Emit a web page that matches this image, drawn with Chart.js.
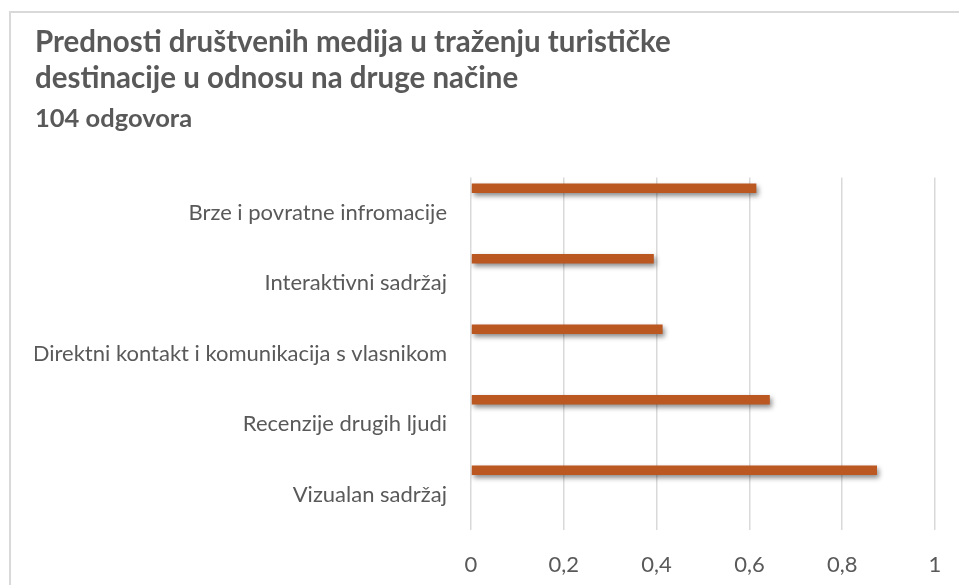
<!DOCTYPE html>
<html>
<head>
<meta charset="utf-8">
<script src="https://cdn.jsdelivr.net/npm/chart.js@4.4.0/dist/chart.umd.min.js"></script>
<style>
  html, body { margin: 0; padding: 0; background: #fff; overflow: hidden; }
  #frame { position: absolute; left: 9px; top: 11px; width: 2000px; height: 2000px; border: 2px solid #d9d9d9; }
  #wrap { position: absolute; left: 0; top: 0; width: 959px; height: 585px; }
</style>
</head>
<body>
<div id="frame"></div>
<div id="wrap"><canvas id="chart"></canvas></div>
<script>
// chart data
const titleLines = [
  'Prednosti društvenih medija u traženju turističke',
  'destinacije u odnosu na druge načine'
];
const subtitleText = '104 odgovora';
const categories = [
  'Brze i povratne infromacije',
  'Interaktivni sadržaj',
  'Direktni kontakt i komunikacija s vlasnikom',
  'Recenzije drugih ljudi',
  'Vizualan sadržaj'
];
const shares = [0.615, 0.394, 0.413, 0.644, 0.875];
const xTickLabels = ['0', '0,2', '0,4', '0,6', '0,8', '1'];

const textColor = '#595959';
const barColor = '#bb5720';

// soft drop shadow under the bars, like the Excel original
const barShadow = {
  id: 'barShadow',
  beforeDatasetDraw(chart, args) {
    if (args.index !== 0) return;
    const ctx = chart.ctx;
    ctx.save();
    ctx.shadowColor = 'rgba(0,0,0,0.45)';
    ctx.shadowBlur = 5;
    ctx.shadowOffsetX = 2;
    ctx.shadowOffsetY = 3;
  },
  afterDatasetDraw(chart, args) {
    if (args.index !== 0) return;
    chart.ctx.restore();
  }
};

// empty series keep the bar at the top of each category band
const emptySeries = () => categories.map(() => null);

const ctx = document.getElementById('chart').getContext('2d');
new Chart(ctx, {
  type: 'bar',
  data: {
    labels: categories,
    datasets: [
      { data: shares, backgroundColor: barColor, borderWidth: 0 },
      { data: emptySeries() },
      { data: emptySeries() },
      { data: emptySeries() }
    ]
  },
  options: {
    indexAxis: 'y',
    responsive: true,
    maintainAspectRatio: false,
    animation: false,
    categoryPercentage: 0.928,
    barPercentage: 0.58,
    layout: { padding: { left: 35, right: 24, top: 0, bottom: 0 } },
    plugins: {
      legend: { display: false },
      tooltip: { enabled: false },
      title: {
        display: true,
        text: titleLines,
        align: 'start',
        color: textColor,
        font: { family: 'Lato', size: 29.5, weight: 'bold', lineHeight: 1.22 },
        padding: { top: 24.5, bottom: 0 }
      },
      subtitle: {
        display: true,
        text: subtitleText,
        align: 'start',
        color: textColor,
        font: { family: 'Lato', size: 25.5, weight: 'bold', lineHeight: 1.2 },
        padding: { top: 7, bottom: 43.5 }
      }
    },
    scales: {
      x: {
        type: 'linear',
        min: 0,
        max: 1,
        ticks: {
          stepSize: 0.2,
          color: textColor,
          font: { family: 'Lato', size: 22 },
          padding: 22,
          callback: (v, i) => xTickLabels[i]
        },
        grid: { color: '#d9d9d9', lineWidth: 1.5, drawTicks: false },
        border: { display: false },
        afterFit: (scale) => {
          scale.height = 55;
          // keep the plot's right edge where the reference has it
          scale.paddingLeft = 0;
          scale.paddingRight = 0;
        }
      },
      y: {
        type: 'category',
        ticks: {
          color: textColor,
          font: { family: 'Lato', size: 22 },
          padding: 16
        },
        grid: { display: false },
        border: { display: false },
        afterFit: (scale) => { scale.width = 436; }
      }
    }
  },
  plugins: [barShadow]
});
</script>
</body>
</html>
